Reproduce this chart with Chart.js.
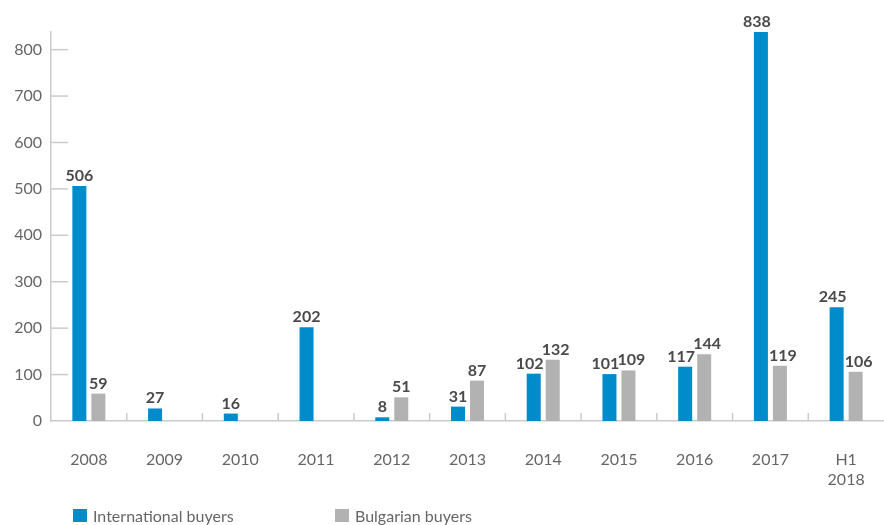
<!DOCTYPE html>
<html>
<head>
<meta charset="utf-8">
<script src="https://cdn.jsdelivr.net/npm/chart.js@4.4.1/dist/chart.umd.min.js"></script>
<style>
  html, body { margin: 0; padding: 0; background: #ffffff; }
  #wrap { position: relative; width: 884px; height: 525px; overflow: hidden; }
  #c { position: absolute; left: 0; top: 0; }
  #legend { position: absolute; left: 0; top: 506px; width: 884px; height: 19px;
            font-family: Lato, "DejaVu Sans", sans-serif; font-size: 16px; color: #666666; }
  .item { position: absolute; top: 0; height: 19px; display: flex; align-items: center; white-space: nowrap; }
  .box { width: 14px; height: 13px; margin-right: 6px; flex: none; }
</style>
</head>
<body>
<div id="wrap">
  <canvas id="c" width="884" height="525"></canvas>
  <div id="legend"></div>
</div>
<script>
// ---- Data ----
const categories = [["2008"], ["2009"], ["2010"], ["2011"], ["2012"], ["2013"], ["2014"], ["2015"], ["2016"], ["2017"], ["H1", "2018"]];
const seriesNames = ["International buyers", "Bulgarian buyers"];
const internationalBuyers = [506, 27, 16, 202, 8, 31, 102, 101, 117, 838, 245];
const bulgarianBuyers = [59, null, null, null, 51, 87, 132, 109, 144, 119, 106];
const yTickValues = [0, 100, 200, 300, 400, 500, 600, 700, 800];

// ---- Styles ----
const BLUE = "#008bca";
const GREY = "#b2b2b2";
const AXIS = "#cbcbcb";
const TEXT = "#666666";
const LABEL = "#4a4a4a";
const FONT = "Lato, 'DejaVu Sans', sans-serif";

const innerTicks = {
  id: "innerTicks",
  beforeDatasetsDraw(chart) {
    const { ctx, chartArea: a, scales: { x, y } } = chart;
    ctx.save();
    ctx.strokeStyle = AXIS;
    ctx.lineWidth = 1.5;
    y.ticks.forEach((t) => {
      if (t.value === 0) return;
      const py = y.getPixelForValue(t.value);
      ctx.beginPath();
      ctx.moveTo(a.left, py);
      ctx.lineTo(a.left + 17, py);
      ctx.stroke();
    });
    for (let i = 1; i < categories.length; i++) {
      const px = (x.getPixelForTick(i - 1) + x.getPixelForTick(i)) / 2;
      ctx.beginPath();
      ctx.moveTo(px, a.bottom);
      ctx.lineTo(px, a.bottom - 8);
      ctx.stroke();
    }
    ctx.restore();
  }
};

const valueLabels = {
  id: "valueLabels",
  afterDatasetsDraw(chart) {
    const { ctx } = chart;
    const sets = chart.data.datasets;
    ctx.save();
    ctx.font = "bold 16px " + FONT;
    ctx.fillStyle = LABEL;
    ctx.textAlign = "center";
    ctx.textBaseline = "alphabetic";
    sets.forEach((ds, di) => {
      const meta = chart.getDatasetMeta(di);
      meta.data.forEach((el, i) => {
        const v = ds.data[i];
        if (v === null || v === undefined) return;
        const a = sets[0].data[i], b = sets[1].data[i];
        let dx = 0;
        if (a !== null && b !== null && a >= 100 && b >= 100) dx = di === 0 ? -4 : 3;
        ctx.fillText(String(v), el.x + dx, el.y - 5);
      });
    });
    ctx.restore();
  }
};

const chart = new Chart(document.getElementById("c"), {
  type: "bar",
  data: {
    labels: categories,
    datasets: [
      { label: seriesNames[0], data: internationalBuyers, backgroundColor: BLUE, borderWidth: 0 },
      { label: seriesNames[1], data: bulgarianBuyers, backgroundColor: GREY, borderWidth: 0 }
    ]
  },
  options: {
    responsive: false,
    animation: false,
    devicePixelRatio: 1,
    datasets: { bar: { categoryPercentage: 0.502, barPercentage: 0.737 } },
    layout: { padding: { top: 32, right: 0, left: 0, bottom: 0 } },
    plugins: {
      legend: { display: false },
      tooltip: { enabled: false }
    },
    scales: {
      x: {
        grid: { display: false, drawTicks: true, tickLength: 28 },
        border: { display: true, color: AXIS, width: 1.5 },
        ticks: { color: TEXT, font: { family: FONT, size: 16, lineHeight: 1.3 }, padding: 0, maxRotation: 0, autoSkip: false },
        afterFit(scale) { scale.height = 104; }
      },
      y: {
        min: 0,
        max: 838,
        grid: { display: false, drawTicks: false },
        border: { display: true, color: AXIS, width: 1.5 },
        ticks: { color: TEXT, font: { family: FONT, size: 16 }, padding: 9, stepSize: 100, includeBounds: false },
        afterBuildTicks(scale) { scale.ticks = yTickValues.map(v => ({ value: v })); },
        afterFit(scale) { scale.width = 51; }
      }
    }
  },
  plugins: [innerTicks, valueLabels]
});

// HTML legend generated from the chart's datasets
const legendEl = document.getElementById("legend");
const legendLefts = [73, 335];
chart.data.datasets.forEach((ds, i) => {
  const item = document.createElement("div");
  item.className = "item";
  item.style.left = legendLefts[i] + "px";
  const box = document.createElement("span");
  box.className = "box";
  box.style.background = ds.backgroundColor;
  const txt = document.createElement("span");
  txt.textContent = ds.label;
  item.appendChild(box);
  item.appendChild(txt);
  legendEl.appendChild(item);
});
</script>
</body>
</html>
